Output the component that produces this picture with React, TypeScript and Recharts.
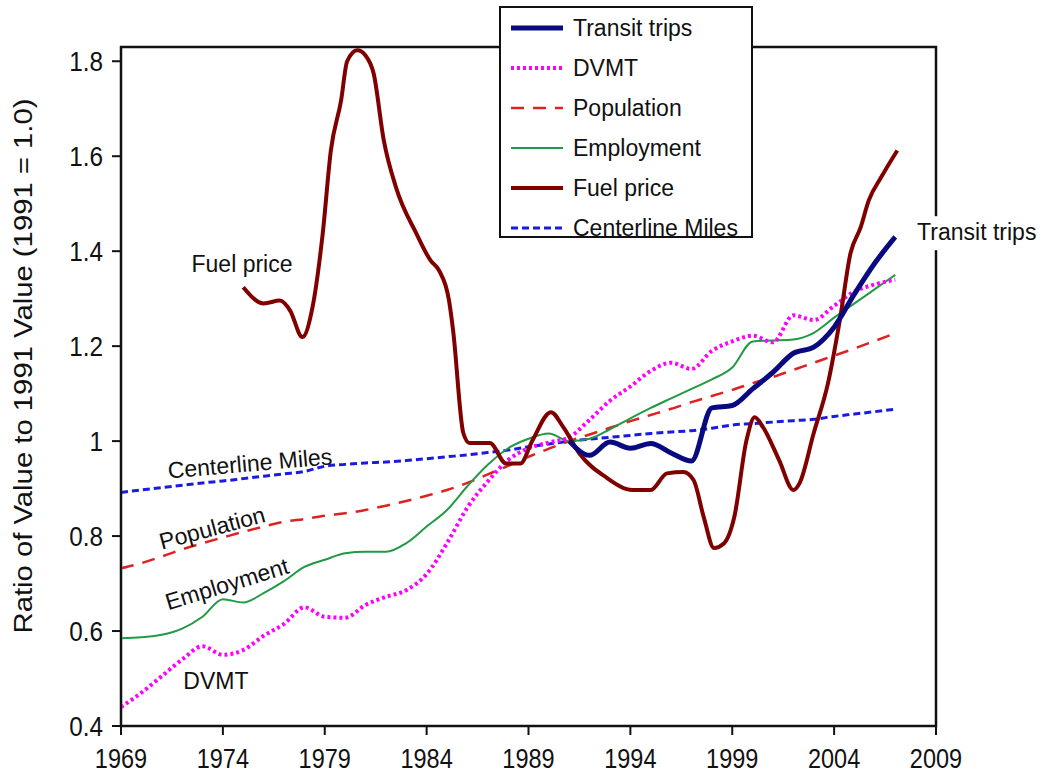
import React from 'react';
import { LineChart, Line, XAxis, YAxis, ReferenceArea, ReferenceDot, Legend } from 'recharts';

const years = [
  1969, 1970, 1971, 1972, 1973, 1974, 1975, 1976, 1977, 1978, 1979, 1980, 1981,
  1982, 1983, 1984, 1985, 1986, 1987, 1988, 1989, 1990, 1991, 1992, 1993, 1994,
  1995, 1996, 1997, 1998, 1999, 2000, 2001, 2002, 2003, 2004, 2005, 2006, 2007,
];

const centerlineMiles = [
  0.892, 0.897, 0.902, 0.907, 0.912, 0.916, 0.921, 0.926, 0.931, 0.936, 0.947, 0.951, 0.954,
  0.956, 0.959, 0.963, 0.967, 0.971, 0.976, 0.981, 0.988, 0.994, 1.0, 1.004, 1.008, 1.012,
  1.016, 1.019, 1.022, 1.027, 1.034, 1.037, 1.04, 1.043, 1.046, 1.052, 1.057, 1.062, 1.067,
];

const population = [
  0.732, 0.743, 0.757, 0.772, 0.785, 0.797, 0.809, 0.82, 0.83, 0.836, 0.843, 0.848, 0.855,
  0.864, 0.874, 0.885, 0.897, 0.912, 0.93, 0.948, 0.967, 0.984, 1.0, 1.014, 1.028, 1.042,
  1.055, 1.068, 1.082, 1.095, 1.108, 1.122, 1.135, 1.15, 1.165, 1.18, 1.195, 1.211, 1.227,
];

const employment = [
  0.585, 0.587, 0.592, 0.605, 0.63, 0.667, 0.66, 0.68, 0.705, 0.735, 0.75, 0.764, 0.767,
  0.767, 0.785, 0.82, 0.855, 0.905, 0.95, 0.985, 1.005, 1.016, 1.0, 1.005, 1.025, 1.048,
  1.07, 1.09, 1.11, 1.13, 1.155, 1.21, 1.212, 1.214, 1.228, 1.26, 1.29, 1.32, 1.35,
];

const dvmt = [
  0.44, 0.47, 0.505, 0.54, 0.568, 0.55, 0.56, 0.59, 0.615, 0.65, 0.63, 0.628, 0.655,
  0.672, 0.686, 0.72, 0.785, 0.86, 0.915, 0.96, 0.985, 0.997, 1.008, 1.045, 1.085, 1.115,
  1.148, 1.165, 1.152, 1.19, 1.21, 1.222, 1.208, 1.265, 1.255, 1.285, 1.315, 1.33, 1.34,
];

const transitYears = [
  1991, 1992, 1993, 1994, 1995, 1996, 1997, 1998, 1999, 2000, 2001, 2002, 2003, 2004,
  2005, 2006, 2007,
];
const transitTrips = [
  1.0, 0.97, 0.998, 0.985, 0.995, 0.975, 0.958, 1.07, 1.075, 1.11, 1.145, 1.185, 1.198,
  1.24, 1.31, 1.375, 1.43,
];

const fuelYears = [
  1975, 1976, 1976.8, 1977.3, 1977.9, 1978.4, 1978.9, 1979.3, 1979.8, 1980.1, 1980.6, 1981,
  1981.4, 1981.9, 1982.5, 1983.5, 1984.2, 1984.6, 1985.1, 1985.3, 1985.8, 1986.1, 1987.1,
  1987.9, 1988.6, 1989.2, 1990.1, 1990.7, 1991.5, 1992.8, 1994.1, 1995, 1995.8, 1996.6,
  1997.1, 1997.6, 1998.1, 1998.6, 1999.1, 1999.7, 2000.1, 2000.5, 2001.3, 2002, 2002.3,
  2003, 2003.7, 2004.3, 2004.8, 2005.3, 2005.7, 2006.3, 2007.1,
];
const fuelPrice = [
  1.324, 1.29, 1.296, 1.275, 1.219, 1.282, 1.437, 1.612, 1.717, 1.8, 1.823, 1.812,
  1.774, 1.633, 1.534, 1.437, 1.38, 1.36, 1.296, 1.233, 1.017, 0.996, 0.996,
  0.953, 0.953, 1.002, 1.061, 1.03, 0.974, 0.924, 0.897, 0.897, 0.932, 0.935,
  0.918, 0.84, 0.775, 0.785, 0.84, 1.002, 1.05, 1.03, 0.96, 0.897, 0.911,
  1.017, 1.122, 1.26, 1.395, 1.45, 1.507, 1.555, 1.612,
];

const xTicks = [1969, 1974, 1979, 1984, 1989, 1994, 1999, 2004, 2009];
const yTicks = [0.4, 0.6, 0.8, 1.0, 1.2, 1.4, 1.6, 1.8];
const yTickLabels = ['0.4', '0.6', '0.8', '1', '1.2', '1.4', '1.6', '1.8'];

const toPoints = (xs: number[], vs: number[]) => xs.map((year, i) => ({ year, value: vs[i] }));

const FONT = '"Liberation Sans", Arial, Helvetica, sans-serif';

const seriesStyles = [
  { name: 'Transit trips', color: '#0a0a80', width: 5, dash: undefined as string | undefined },
  { name: 'DVMT', color: '#ff00ff', width: 4, dash: '3 3' },
  { name: 'Population', color: '#dd2222', width: 2.5, dash: '13 9' },
  { name: 'Employment', color: '#229944', width: 2, dash: undefined },
  { name: 'Fuel price', color: '#800000', width: 4, dash: undefined },
  { name: 'Centerline Miles', color: '#1a1ae0', width: 3, dash: '7 4' },
];

const XTick = (props: any) => {
  const { x, y, payload } = props;
  return (
    <text x={0} y={0} transform={`translate(${x},${y + 31}) scale(0.84,1)`} textAnchor="middle" fontSize={28} fill="#111" fontFamily={FONT}>
      {payload.value}
    </text>
  );
};

const YTick = (props: any) => {
  const { x, y, payload } = props;
  const i = yTicks.findIndex((t) => Math.abs(t - payload.value) < 1e-6);
  return (
    <text x={0} y={0} transform={`translate(${x - 7},${y + 10}) scale(0.9,1)`} textAnchor="end" fontSize={27} fill="#111" fontFamily={FONT}>
      {i >= 0 ? yTickLabels[i] : ''}
    </text>
  );
};

const LegendBox = () => (
  <div
    style={{
      width: 250,
      height: 228,
      background: '#fff',
      border: '2px solid #111',
      boxSizing: 'content-box',
      fontFamily: FONT,
      fontSize: 23,
      color: '#111',
      position: 'relative',
    }}
  >
    {seriesStyles.map((s, i) => (
      <div key={s.name} style={{ position: 'absolute', left: 9, top: 5 + i * 40, height: 30, display: 'flex', alignItems: 'center', whiteSpace: 'nowrap' }}>
        <svg width={54} height={10} style={{ marginRight: 9 }}>
          <line x1={1} y1={5} x2={53} y2={5} stroke={s.color} strokeWidth={s.width} strokeDasharray={s.dash} />
        </svg>
        <span>{s.name}</span>
      </div>
    ))}
  </div>
);

const makeLabel = (text: string, angle: number, size = 23, bg = false) => (props: any) => {
  const { cx, cy } = props;
  return (
    <g>
      {bg ? <rect x={cx - 65} y={cy - 16} width={130} height={34} fill="#fff" /> : null}
      <text x={cx} y={cy} transform={`rotate(${angle},${cx},${cy})`} textAnchor="middle" dominantBaseline="central" fontSize={size} fill="#111" fontFamily={FONT}>
        {text}
      </text>
    </g>
  );
};

export default function App() {
  return (
    <div style={{ position: 'absolute', left: 0, top: 0, background: '#fff' }}>
      <LineChart width={1042} height={776} margin={{ top: 47, right: 106, bottom: 0, left: 0 }} style={{ fontFamily: FONT }}>
        <XAxis
          dataKey="year"
          type="number"
          domain={[1969, 2009]}
          ticks={xTicks}
          allowDataOverflow
          axisLine={{ stroke: '#111', strokeWidth: 2 }}
          tickLine={{ stroke: '#111', strokeWidth: 2 }}
          tickSize={9}
          height={50}
          tick={<XTick />}
          interval={0}
        />
        <YAxis
          type="number"
          domain={[0.4, 1.83]}
          ticks={yTicks}
          allowDataOverflow
          axisLine={{ stroke: '#111', strokeWidth: 2 }}
          tickLine={{ stroke: '#111', strokeWidth: 2 }}
          tickSize={9}
          width={121}
          tick={<YTick />}
          interval={0}
        />
        <ReferenceArea x1={1969} x2={2009} y1={0.4} y2={1.83} fill="none" stroke="#111" strokeWidth={2.5} ifOverflow="visible" />
        <Line data={toPoints(years, centerlineMiles)} dataKey="value" name="Centerline Miles" type="monotone" stroke="#1a1ae0" strokeWidth={3} strokeDasharray="7 4" dot={false} isAnimationActive={false} />
        <Line data={toPoints(years, population)} dataKey="value" name="Population" type="monotone" stroke="#dd2222" strokeWidth={2.5} strokeDasharray="13 9" dot={false} isAnimationActive={false} />
        <Line data={toPoints(years, employment)} dataKey="value" name="Employment" type="monotone" stroke="#229944" strokeWidth={2} dot={false} isAnimationActive={false} />
        <Line data={toPoints(years, dvmt)} dataKey="value" name="DVMT" type="monotone" stroke="#ff00ff" strokeWidth={4} strokeDasharray="3 3" dot={false} isAnimationActive={false} />
        <Line data={toPoints(fuelYears, fuelPrice)} dataKey="value" name="Fuel price" type="monotone" stroke="#800000" strokeWidth={4} dot={false} isAnimationActive={false} />
        <Line data={toPoints(transitYears, transitTrips)} dataKey="value" name="Transit trips" type="monotone" stroke="#0a0a80" strokeWidth={5} dot={false} isAnimationActive={false} />
        <ReferenceDot x={1974.94} y={1.374} r={0} ifOverflow="visible" shape={makeLabel('Fuel price', 0)} />
        <ReferenceDot x={1975.33} y={0.953} r={0} ifOverflow="visible" shape={makeLabel('Centerline Miles', -5)} />
        <ReferenceDot x={1973.47} y={0.817} r={0} ifOverflow="visible" shape={makeLabel('Population', -15)} />
        <ReferenceDot x={1974.2} y={0.699} r={0} ifOverflow="visible" shape={makeLabel('Employment', -17)} />
        <ReferenceDot x={1973.66} y={0.495} r={0} ifOverflow="visible" shape={makeLabel('DVMT', 0)} />
        <ReferenceDot x={2011.0} y={1.44} r={0} ifOverflow="visible" shape={makeLabel('Transit trips', 0, 23, true)} />
        <text x={23} y={366} transform="rotate(-90,23,366)" textAnchor="middle" dominantBaseline="central" fontSize={25} fill="#111" fontFamily={FONT} textLength={535} lengthAdjust="spacingAndGlyphs">
          Ratio of Value to 1991 Value (1991 = 1.0)
        </text>
        <Legend
          layout="horizontal"
          verticalAlign="middle"
          align="center"
          content={<LegendBox />}
          wrapperStyle={{ position: 'absolute', left: 499, top: 6, width: 254, height: 232 }}
        />
      </LineChart>
    </div>
  );
}
